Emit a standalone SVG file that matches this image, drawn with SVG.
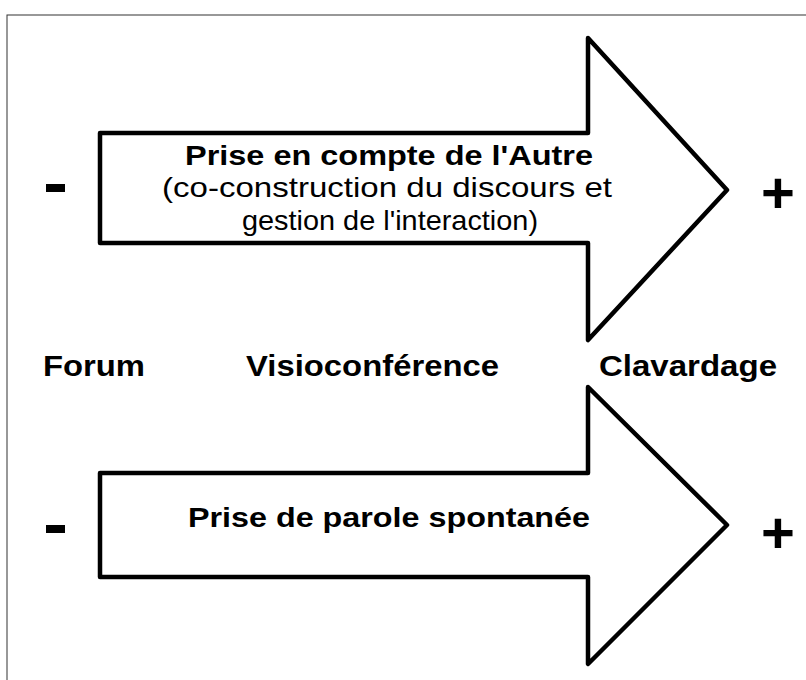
<svg xmlns="http://www.w3.org/2000/svg" width="806" height="680" viewBox="0 0 806 680">
<style>
.arrow{fill:#fff;stroke:#000;stroke-width:4.5;stroke-linejoin:round}
.t{font-family:"Liberation Sans",Arial,sans-serif;fill:#000}
.b{font-weight:bold}
.s{font-family:"Liberation Sans",Arial,sans-serif;font-weight:bold;fill:#000;text-anchor:middle}
</style>
<rect x="0" y="0" width="806" height="680" fill="#fff"/>
<rect x="7" y="15" width="810" height="700" fill="none" stroke="#333" stroke-width="1"/>
<g id="arrow-top">
<polygon class="arrow" points="100,133 588,133 588,38 727,190 588,340 588,243 100,243"/>
<text class="t b" x="185" y="165" font-size="28" textLength="408" lengthAdjust="spacingAndGlyphs">Prise en compte de l'Autre</text>
<text class="t" x="162" y="197" font-size="28" textLength="450" lengthAdjust="spacingAndGlyphs">(co-construction du discours et</text>
<text class="t" x="242" y="230" font-size="28" textLength="296" lengthAdjust="spacingAndGlyphs">gestion de l'interaction)</text>
</g>
<g id="arrow-bottom">
<polygon class="arrow" points="100,473 588,473 588,387 727,525 588,664 588,577 100,577"/>
<text class="t b" x="188" y="527" font-size="28" textLength="402" lengthAdjust="spacingAndGlyphs">Prise de parole spontanée</text>
</g>
<g id="signs">
<rect x="46" y="184" width="19" height="8" fill="#000"/>
<text class="s" x="778" y="213" font-size="58">+</text>
<rect x="46" y="525" width="19" height="8" fill="#000"/>
<text class="s" x="778" y="553" font-size="58">+</text>
</g>
<g id="labels">
<text class="t b" x="43" y="376" font-size="29" textLength="102" lengthAdjust="spacingAndGlyphs">Forum</text>
<text class="t b" x="246" y="376" font-size="29" textLength="253" lengthAdjust="spacingAndGlyphs">Visioconférence</text>
<text class="t b" x="599" y="376" font-size="29" textLength="178" lengthAdjust="spacingAndGlyphs">Clavardage</text>
</g>
<g id="connectors"></g>
</svg>
